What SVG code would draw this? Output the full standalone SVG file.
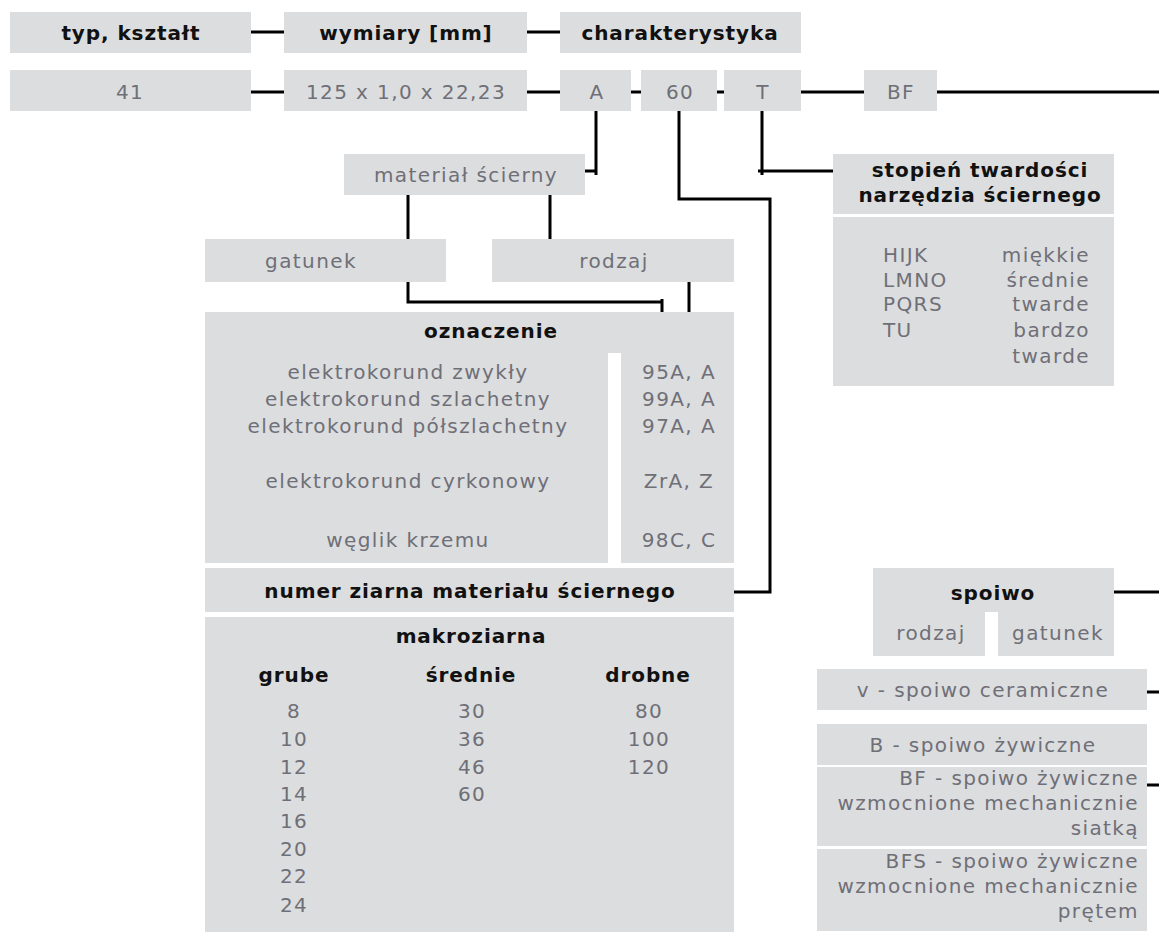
<svg xmlns="http://www.w3.org/2000/svg" width="1159" height="935" viewBox="0 0 1159 935">
<style>
.box{fill:#dcddde}
.gap{fill:#ffffff}
.t{font-family:"DejaVu Sans","Liberation Sans",sans-serif;font-size:20px;fill:#6f6f78;letter-spacing:1.4px}
.b{font-weight:bold;fill:#111111;letter-spacing:0.9px}
.c{text-anchor:middle}
.r{text-anchor:end}
.ln{fill:none;stroke:#000000;stroke-width:3}
</style>
<rect width="1159" height="935" fill="#ffffff"/>
<g id="connectors" class="ln">
<path d="M251,32H284M527,32H560"/>
<path d="M251,92H284M527,92H560M631,92H641M717,92H724M801,92H864M937,92H1159"/>
<path d="M596,111V175M585,171H596"/>
<path d="M679,111V199H770V592H734"/>
<path d="M762,111V175M758,171H834"/>
<path d="M408,195V239M550,195V239"/>
<path d="M408,282V302H662M662,299V312"/>
<path d="M689,282V312"/>
<path d="M1114,592H1159M1147,692H1159M1147,785H1159"/>
</g>
<g id="n-typ"><rect class="box" x="10" y="12" width="241" height="41"/><text class="t b c" x="131" y="40">typ, kształt</text></g>
<g id="n-wymiary"><rect class="box" x="284" y="12" width="243" height="41"/><text class="t b c" x="406" y="40">wymiary [mm]</text></g>
<g id="n-charakterystyka"><rect class="box" x="560" y="12" width="241" height="41"/><text class="t b c" x="680" y="40">charakterystyka</text></g>
<g id="n-41"><rect class="box" x="10" y="70" width="241" height="41"/><text class="t c" x="130" y="99">41</text></g>
<g id="n-wym"><rect class="box" x="284" y="70" width="243" height="41"/><text class="t c" x="406" y="99">125 x 1,0 x 22,23</text></g>
<g id="n-A"><rect class="box" x="560" y="70" width="71" height="41"/><text class="t c" x="597" y="99">A</text></g>
<g id="n-60"><rect class="box" x="641" y="70" width="76" height="41"/><text class="t c" x="680" y="99">60</text></g>
<g id="n-T"><rect class="box" x="724" y="70" width="77" height="41"/><text class="t c" x="763" y="99">T</text></g>
<g id="n-BF"><rect class="box" x="864" y="70" width="73" height="41"/><text class="t c" x="901" y="99">BF</text></g>
<g id="n-material"><rect class="box" x="344" y="154" width="241" height="41"/><text class="t c" x="466" y="182">materiał ścierny</text></g>
<g id="n-gatunek"><rect class="box" x="205" y="239" width="241" height="43"/><text class="t c" x="311" y="268">gatunek</text></g>
<g id="n-rodzaj"><rect class="box" x="492" y="239" width="242" height="43"/><text class="t c" x="614" y="268">rodzaj</text></g>
<g id="n-oznaczenie">
<rect class="box" x="205" y="312" width="529" height="251"/>
<rect class="gap" x="608" y="353" width="13" height="210"/>
<text class="t b c" x="491" y="338">oznaczenie</text>
<text class="t c" x="408" y="379">elektrokorund zwykły</text>
<text class="t c" x="408" y="406">elektrokorund szlachetny</text>
<text class="t c" x="408" y="433">elektrokorund półszlachetny</text>
<text class="t c" x="408" y="488">elektrokorund cyrkonowy</text>
<text class="t c" x="408" y="547">węglik krzemu</text>
<text class="t c" x="679" y="379">95A, A</text>
<text class="t c" x="679" y="406">99A, A</text>
<text class="t c" x="679" y="433">97A, A</text>
<text class="t c" x="679" y="488">ZrA, Z</text>
<text class="t c" x="679" y="547">98C, C</text>
</g>
<g id="n-numer"><rect class="box" x="205" y="568" width="529" height="44"/><text class="t b c" x="470" y="598">numer ziarna materiału ściernego</text></g>
<g id="n-makroziarna">
<rect class="box" x="205" y="617" width="529" height="315"/>
<text class="t b c" x="471" y="643">makroziarna</text>
<text class="t b c" x="294" y="682">grube</text>
<text class="t b c" x="471" y="682">średnie</text>
<text class="t b c" x="648" y="682">drobne</text>
<text class="t c" x="294" y="718">8</text>
<text class="t c" x="294" y="746">10</text>
<text class="t c" x="294" y="774">12</text>
<text class="t c" x="294" y="801">14</text>
<text class="t c" x="294" y="828">16</text>
<text class="t c" x="294" y="856">20</text>
<text class="t c" x="294" y="883">22</text>
<text class="t c" x="294" y="912">24</text>
<text class="t c" x="472" y="718">30</text>
<text class="t c" x="472" y="746">36</text>
<text class="t c" x="472" y="774">46</text>
<text class="t c" x="472" y="801">60</text>
<text class="t c" x="649" y="718">80</text>
<text class="t c" x="649" y="746">100</text>
<text class="t c" x="649" y="774">120</text>
</g>
<g id="n-stopien">
<rect class="box" x="833" y="154" width="281" height="60"/>
<text class="t b c" x="980" y="177">stopień twardości</text>
<text class="t b c" x="980" y="202">narzędzia ściernego</text>
</g>
<g id="n-twardosc">
<rect class="box" x="833" y="217" width="281" height="169"/>
<text class="t" x="883" y="262">HIJK</text>
<text class="t" x="883" y="287">LMNO</text>
<text class="t" x="883" y="311">PQRS</text>
<text class="t" x="883" y="337">TU</text>
<text class="t r" x="1090" y="262">miękkie</text>
<text class="t r" x="1090" y="287">średnie</text>
<text class="t r" x="1090" y="311">twarde</text>
<text class="t r" x="1090" y="337">bardzo</text>
<text class="t r" x="1090" y="363">twarde</text>
</g>
<g id="n-spoiwo">
<rect class="box" x="873" y="568" width="241" height="88"/>
<rect class="gap" x="985" y="612" width="13" height="44"/>
<text class="t b c" x="993" y="600">spoiwo</text>
<text class="t c" x="931" y="640">rodzaj</text>
<text class="t c" x="1058" y="640">gatunek</text>
</g>
<g id="n-v"><rect class="box" x="817" y="669" width="330" height="41"/><text class="t c" x="983" y="697">v - spoiwo ceramiczne</text></g>
<g id="n-B"><rect class="box" x="817" y="724" width="330" height="41"/><text class="t c" x="983" y="752">B - spoiwo żywiczne</text></g>
<g id="n-BF2">
<rect class="box" x="817" y="767" width="330" height="79"/>
<text class="t r" x="1139" y="785">BF - spoiwo żywiczne</text>
<text class="t r" x="1139" y="810">wzmocnione mechanicznie</text>
<text class="t r" x="1139" y="835">siatką</text>
</g>
<g id="n-BFS">
<rect class="box" x="817" y="849" width="330" height="82"/>
<text class="t r" x="1139" y="868">BFS - spoiwo żywiczne</text>
<text class="t r" x="1139" y="893">wzmocnione mechanicznie</text>
<text class="t r" x="1139" y="918">prętem</text>
</g>
</svg>
